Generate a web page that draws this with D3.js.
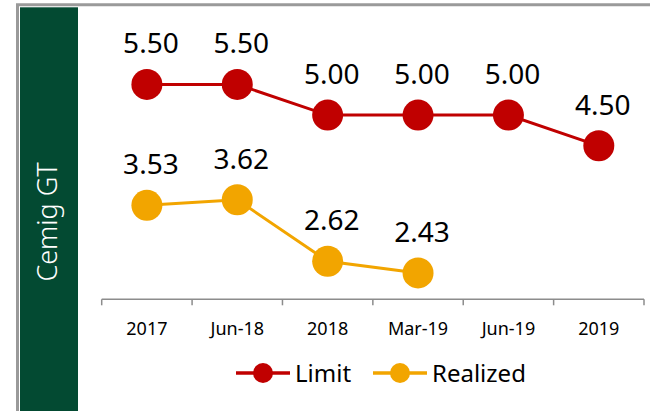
<!DOCTYPE html>
<html>
<head>
<meta charset="utf-8">
<script src="https://cdn.jsdelivr.net/npm/d3@7"></script>
<style>
  html, body { margin: 0; padding: 0; background: #fff; }
  svg { display: block; font-family: 'Noto Sans', sans-serif; }
  .axis-line { stroke: #8c8c8c; stroke-width: 1.5; fill: none; }
  .cat-label { font-size: 18px; fill: #000; text-anchor: middle; }
  .value-label { font-size: 28px; fill: #000; text-anchor: middle; }
  .legend-label { font-size: 24px; fill: #000; }
</style>
</head>
<body>
<svg id="chart" width="650" height="411"></svg>
<script>
var CATEGORIES = ['2017', 'Jun-18', '2018', 'Mar-19', 'Jun-19', '2019'],

    LIMIT    = [5.50, 5.50, 5.00, 5.00, 5.00, 4.50],
    REALIZED = [3.53, 3.62, 2.62, 2.43, null, null],

    SERIES_NAMES  = ['Limit', 'Realized'],
    SERIES_COLORS = ['#c00000', '#f2a500'],

    PANEL_TITLE = 'Cemig GT';

var svg = d3.select('#chart'),

    plot = { left: 101.7, right: 644, top: 53.7, bottom: 299.3 },

    x = d3.scaleBand()
      .domain(CATEGORIES)
      .range([plot.left, plot.right])
      .padding(0),

    y = d3.scaleLinear()
      .domain([2, 6])
      .range([plot.bottom, plot.top]),

    cx = function(c) { return x(c) + x.bandwidth() / 2; },

    series = SERIES_NAMES.map(function(name, i) {
      var values = (i === 0) ? LIMIT : REALIZED;
      return {
        name: name,
        color: SERIES_COLORS[i],
        points: CATEGORIES.map(function(c, j) {
          return { cat: c, value: values[j] };
        }).filter(function(p) { return p.value !== null; })
      };
    });

// frame + green side panel
svg.append('path')
  .attr('d', 'M17.5,411V4.8H650')
  .attr('fill', 'none')
  .attr('stroke', '#9a9a9a')
  .attr('stroke-width', 3);

svg.append('rect')
  .attr('x', 20)
  .attr('y', 7.3)
  .attr('width', 58)
  .attr('height', 411 - 7.3)
  .attr('fill', '#034a32');

svg.append('text')
  .attr('transform', 'translate(57,222) rotate(-90)')
  .attr('text-anchor', 'middle')
  .attr('fill', '#fff')
  .style('font-size', '27px')
  .style('font-weight', 300)
  .text(PANEL_TITLE);

// x axis: line with ticks on the category boundaries
var axis = svg.append('g');

axis.append('path')
  .attr('class', 'axis-line')
  .attr('d', 'M' + plot.left + ',' + plot.bottom + 'H' + plot.right);

axis.selectAll('line.tick')
  .data(CATEGORIES.map(function(c) { return x(c); }).concat([plot.right]))
  .enter().append('line')
    .attr('class', 'axis-line tick')
    .attr('x1', function(d) { return d; })
    .attr('x2', function(d) { return d; })
    .attr('y1', plot.bottom)
    .attr('y2', plot.bottom + 6);

axis.selectAll('text')
  .data(CATEGORIES)
  .enter().append('text')
    .attr('class', 'cat-label')
    .attr('x', cx)
    .attr('y', plot.bottom + 36)
    .text(function(d) { return d; });

// lines, markers, value labels
var line = d3.line()
  .x(function(p) { return cx(p.cat); })
  .y(function(p) { return y(p.value); });

var groups = svg.selectAll('g.series')
  .data(series)
  .enter().append('g')
    .attr('class', 'series');

groups.append('path')
  .attr('d', function(s) { return line(s.points); })
  .attr('fill', 'none')
  .attr('stroke', function(s) { return s.color; })
  .attr('stroke-width', 3);

groups.each(function(s) {
  var g = d3.select(this);

  g.selectAll('circle')
    .data(s.points)
    .enter().append('circle')
      .attr('cx', function(p) { return cx(p.cat); })
      .attr('cy', function(p) { return y(p.value); })
      .attr('r', 15.5)
      .attr('fill', s.color);

  g.selectAll('text')
    .data(s.points)
    .enter().append('text')
      .attr('class', 'value-label')
      .attr('x', function(p) { return cx(p.cat) + 4; })
      .attr('y', function(p) { return y(p.value) - 31; })
      .text(function(p) { return d3.format('.2f')(p.value); });
});

// legend
var legend = svg.append('g'),
    legendY = 373,
    legendX = [236, 373];

var items = legend.selectAll('g')
  .data(series)
  .enter().append('g')
    .attr('transform', function(s, i) { return 'translate(' + legendX[i] + ',' + legendY + ')'; });

items.append('line')
  .attr('x1', 0)
  .attr('x2', 54)
  .attr('stroke', function(s) { return s.color; })
  .attr('stroke-width', 3.5);

items.append('circle')
  .attr('cx', 27)
  .attr('r', 10)
  .attr('fill', function(s) { return s.color; });

items.append('text')
  .attr('class', 'legend-label')
  .attr('x', 59)
  .attr('y', 9)
  .text(function(s) { return s.name; });
</script>
</body>
</html>
